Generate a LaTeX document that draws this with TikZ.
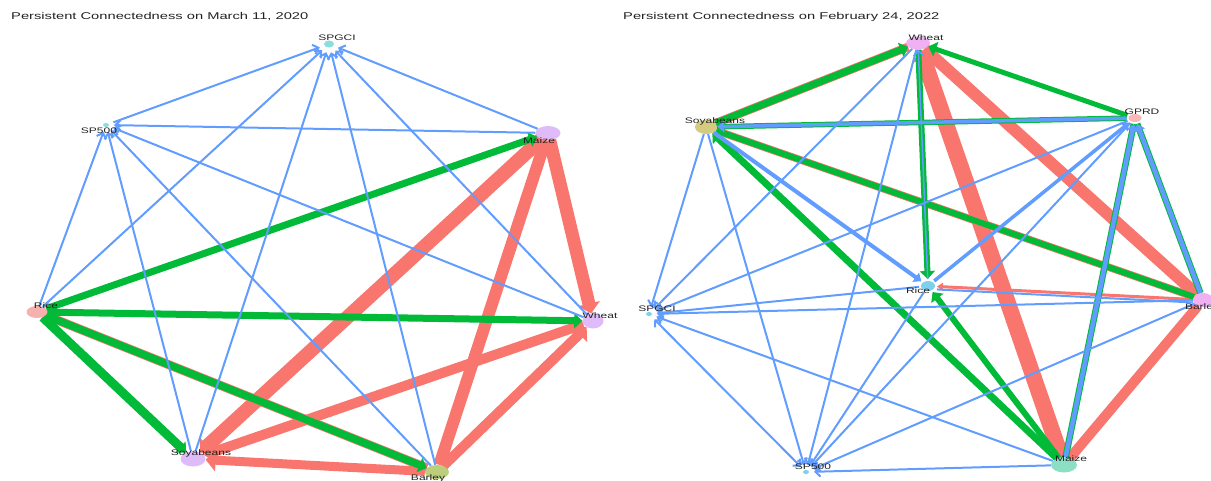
\documentclass[tikz,border=0pt]{standalone}
\usepackage{fontspec}
\setmainfont{Liberation Sans}
\usepackage{graphicx}
\usetikzlibrary{arrows.meta,shapes.geometric}
\pgfdeclarelayer{edges}
\pgfsetlayers{edges,main}
\definecolor{eblue}{HTML}{619CFF}
\definecolor{egreen}{HTML}{00BA38}
\definecolor{ered}{HTML}{F8766D}
\definecolor{cyanL}{HTML}{7DDBD9}
\definecolor{violetL}{HTML}{DCB4F8}
\definecolor{pinkL}{HTML}{F5A9A5}
\definecolor{oliveL}{HTML}{B5C96E}
\definecolor{pinkV}{HTML}{EEA8F2}
\definecolor{pinkR}{HTML}{F7B0B0}
\definecolor{oliveR}{HTML}{CFC572}
\definecolor{blueR}{HTML}{71CBEA}
\definecolor{mintR}{HTML}{80DCBC}
\definecolor{txt}{HTML}{222222}
\newcommand{\wt}[1]{\scalebox{1.5}[1]{#1}}
\begin{document}
\begin{tikzpicture}[x=1pt,y=-1pt,
  dot/.style={ellipse,inner sep=0pt,draw=none,fill opacity=0.9},
  lbl/.style={font=\fontsize{8}{9}\selectfont,text=txt,inner sep=0pt,text opacity=1},
  ttl/.style={font=\fontsize{9.8}{11}\selectfont,text=txt,anchor=west,inner sep=0pt},
  be/.style={draw=eblue,line width=#1},
  be/.default=2pt,
  ge/.style={draw=egreen,line width=#1},
  re/.style={draw=ered,line width=#1},
  bt/.style={-{Straight Barb[length=5pt,width=10pt]}},
  btt/.style={{Straight Barb[length=5pt,width=10pt]}-{Straight Barb[length=5pt,width=10pt]}},
  gt/.style={-{Triangle[length=8pt,width=15pt]}},
  rt/.style={-{Triangle[length=10pt,width=22pt]}},
  bgt/.style={-{Triangle[length=7pt,width=11pt]}}
]
\useasboundingbox (0,0) rectangle (1211,481);

\node[ttl] (t1) at (11,17) {\wt{Persistent Connectedness on March 11, 2020}};
\node[ttl] (t2) at (623,17) {\wt{Persistent Connectedness on February 24, 2022}};

% ---------- left graph nodes ----------
\node[dot,fill=cyanL,minimum width=10pt,minimum height=7pt,outer sep=5pt,
  label={[lbl,xshift=8pt,yshift=6pt]center:\wt{SPGCI}}] (lSPGCI) at (329,44) {};
\node[dot,fill=cyanL,minimum width=6pt,minimum height=4pt,outer sep=5pt,
  label={[lbl,xshift=-7pt,yshift=-6pt]center:\wt{SP500}}] (lSP500) at (106,125) {};
\node[dot,fill=violetL,minimum width=25pt,minimum height=14pt,
  label={[lbl,xshift=-9pt,yshift=-8pt]center:\wt{Maize}}] (lMaize) at (548,133) {};
\node[dot,fill=pinkL,minimum width=21pt,minimum height=12pt,
  label={[lbl,xshift=9pt,yshift=6pt]center:\wt{Rice}}] (lRice) at (37,312) {};
\node[dot,fill=violetL,minimum width=21pt,minimum height=15pt,
  label={[lbl,xshift=7pt,yshift=5pt]center:\wt{Wheat}}] (lWheat) at (593,321) {};
\node[dot,fill=violetL,minimum width=25pt,minimum height=15pt,
  label={[lbl,xshift=8pt,yshift=6pt]center:\wt{Soyabeans}}] (lSoy) at (193,459) {};
\node[dot,fill=oliveL,minimum width=24pt,minimum height=14pt,
  label={[lbl,xshift=-9pt,yshift=-6pt]center:\wt{Barley}}] (lBarley) at (437,472) {};

% ---------- right graph nodes ----------
\node[dot,fill=pinkV,minimum width=24pt,minimum height=13pt,
  label={[lbl,xshift=8pt,yshift=5pt]center:\wt{Wheat}}] (rWheat) at (918,43) {};
\node[dot,fill=pinkR,minimum width=13pt,minimum height=8pt,outer sep=2pt,
  label={[lbl,xshift=7pt,yshift=6pt]center:\wt{GPRD}}] (rGPRD) at (1135,118) {};
\node[dot,fill=oliveR,minimum width=22pt,minimum height=14pt,
  label={[lbl,xshift=9pt,yshift=6pt]center:\wt{Soyabeans}}] (rSoy) at (706,127) {};
\node[dot,fill=blueR,minimum width=14pt,minimum height=10pt,outer sep=2pt,
  label={[lbl,xshift=-10pt,yshift=-5pt]center:\wt{Rice}}] (rRice) at (928,286) {};
\node[dot,fill=blueR,minimum width=6pt,minimum height=4pt,outer sep=5pt,
  label={[lbl,xshift=8pt,yshift=5pt]center:\wt{SPGCI}}] (rSPGCI) at (649,314) {};
\node[dot,fill=pinkV,minimum width=20pt,minimum height=14pt,
  label={[lbl,xshift=-1pt,yshift=-7pt]center:\wt{Barley}}] (rBarley) at (1203,300) {};
\node[dot,fill=blueR,minimum width=6pt,minimum height=4pt,outer sep=5pt,
  label={[lbl,xshift=7pt,yshift=5pt]center:\wt{SP500}}] (rSP500) at (806,472) {};
\node[dot,fill=mintR,minimum width=26pt,minimum height=15pt,
  label={[lbl,xshift=7pt,yshift=6pt]center:\wt{Maize}}] (rMaize) at (1064,465) {};

\begin{pgfonlayer}{edges}
% ===== left: red =====
\draw[re=13pt,rt] (lMaize) -- (lWheat);
\draw[re=14pt,rt] (lMaize) -- (lSoy);
\draw[re=12pt] (lMaize) -- (lBarley);
\draw[re=10pt,rt] (lWheat) -- (lSoy);
\draw[re=10pt,rt] (lBarley) -- (lWheat);
\draw[re=9pt,rt] (lBarley) -- (lSoy);
\draw[re=9pt] (lRice) -- (lBarley);
% ===== left: green =====
\draw[ge=7pt,gt] (lRice) -- (lMaize);
\draw[ge=7pt,gt] (lRice) -- (lWheat);
\draw[ge=9pt,gt] (lRice) -- (lSoy);
\draw[ge=7.5pt,gt] (lRice) -- (lBarley);
% ===== left: blue =====
\draw[be,bt] (lSP500) -- (lSPGCI);
\draw[be,bt] (lRice) -- (lSPGCI);
\draw[be,bt] (lSoy) -- (lSPGCI);
\draw[be,bt] (lBarley) -- (lSPGCI);
\draw[be,bt] (lWheat) -- (lSPGCI);
\draw[be,bt] (lMaize) -- (lSPGCI);
\draw[be,bt] (lMaize) -- (lSP500);
\draw[be,bt] (lRice) -- (lSP500);
\draw[be,bt] (lSoy) -- (lSP500);
\draw[be,bt] (lBarley) -- (lSP500);
\draw[be,bt] (lWheat) -- (lSP500);

% ===== right: red =====
\draw[re=16pt,rt] (rMaize) -- (rWheat);
\draw[re=12pt] (rBarley) -- (rWheat);
\draw[re=10pt] (rBarley) -- (rMaize);
\draw[re=8.5pt] (rSoy) -- (rWheat);
\draw[re=7.5pt] (rBarley) -- (rSoy);
\draw[re=3pt,-{Triangle[length=6pt,width=8pt]}] (rBarley) -- (rRice);
% ===== right: green =====
\draw[ge=7pt,gt] (rSoy) -- (rWheat);
\draw[ge=5pt,gt] (rGPRD) -- (rWheat);
\draw[ge=6pt,gt] (rWheat) -- (rRice);
\draw[ge=6pt,gt] (rBarley) -- (rSoy);
\draw[ge=7pt,gt] (rMaize) -- (rSoy);
\draw[ge=6pt,gt] (rMaize) -- (rRice);
\draw[ge=5.5pt] (rGPRD) -- (rSoy);
\draw[ge=6.5pt] (rMaize) -- (rGPRD);
\draw[ge=6.5pt] (rBarley) -- (rGPRD);
% ===== right: blue =====
\draw[be=3.5pt,bgt] (rGPRD) -- (rSoy);
\draw[be=4.5pt,bgt] (rMaize) -- (rGPRD);
\draw[be=4.5pt,bgt] (rBarley) -- (rGPRD);
\draw[be=1.5pt,bt] (rRice) -- (rWheat);
\draw[be=4pt,bgt] (rSoy) -- (rRice);
\draw[be=3.5pt,bgt] (rRice) -- (rGPRD);
\draw[be,transform canvas={yshift=-3pt}] (rBarley) -- (rRice);
\draw[be,bt] (rWheat) -- (rSPGCI);
\draw[be,bt] (rWheat) -- (rSP500);
\draw[be,bt] (rSoy) -- (rSPGCI);
\draw[be,bt] (rSoy) -- (rSP500);
\draw[be,bt] (rGPRD) -- (rSPGCI);
\draw[be,bt] (rGPRD) -- (rSP500);
\draw[be,bt] (rRice) -- (rSPGCI);
\draw[be,bt] (rRice) -- (rSP500);
\draw[be,bt] (rBarley) -- (rSPGCI);
\draw[be,bt] (rBarley) -- (rSP500);
\draw[be,bt] (rMaize) -- (rSPGCI);
\draw[be,bt] (rMaize) -- (rSP500);
\draw[be,btt] (rSP500) -- (rSPGCI);
\end{pgfonlayer}
\end{tikzpicture}
\end{document}
